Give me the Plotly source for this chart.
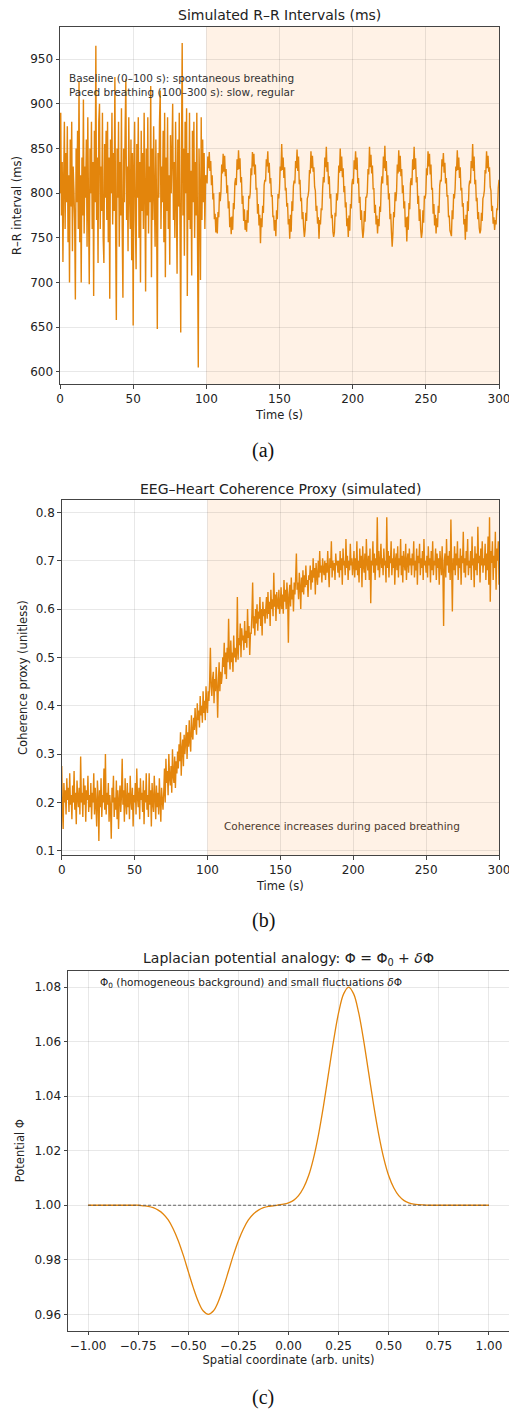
import numpy as np
import plotly.graph_objects as go

# ---- (a) simulated R-R intervals (ms), one value every 0.5 s ----
rr_baseline = [  # 0 - 99.5 s, spontaneous breathing
    800, 890, 775, 835, 723, 815, 880, 760, 845, 790, 875, 745, 820, 700, 860, 785, 880, 735, 830, 805,
    770, 681, 850, 790, 870, 760, 925, 745, 820, 700, 840, 775, 905, 755, 830, 795, 860, 740, 885, 780,
    698, 850, 800, 880, 760, 835, 685, 870, 790, 965, 770, 840, 722, 880, 900, 760, 830, 780, 890, 750,
    722, 855, 795, 870, 770, 880, 745, 840, 682, 860, 800, 890, 765, 845, 780, 930, 760, 658, 850, 795,
    880, 740, 835, 775, 895, 760, 683, 850, 790, 870, 928, 770, 830, 735, 885, 800, 760, 860, 725, 845,
    652, 830, 880, 770, 715, 855, 795, 885, 750, 835, 700, 870, 780, 845, 760, 890, 805, 690, 850, 775,
    885, 755, 830, 790, 920, 706, 850, 770, 875, 800, 740, 860, 785, 648, 845, 795, 880, 915, 760, 830,
    790, 870, 745, 890, 706, 840, 780, 885, 760, 820, 720, 865, 800, 845, 900, 770, 835, 750, 880, 795,
    710, 860, 785, 890, 765, 644, 840, 968, 775, 850, 730, 880, 800, 895, 685, 845, 770, 890, 760, 825,
    708, 870, 790, 880, 750, 835, 775, 890, 740, 605, 850, 800, 703, 885, 770, 860, 790, 845, 760, 820,
]
rr_paced = [  # 100 - 300 s, paced breathing (~10 s cycles)
    819, 811, 841, 828, 846, 825, 836, 809, 820, 793, 800, 771, 777, 756, 773, 755, 779, 773, 801, 791,
    802, 832, 822, 844, 824, 842, 819, 827, 800, 809, 783, 791, 762, 773, 754, 774, 759, 789, 782, 811,
    817, 809, 838, 826, 848, 827, 839, 812, 818, 788, 797, 769, 782, 759, 770, 757, 781, 767, 797, 794,
    800, 828, 820, 846, 830, 844, 821, 832, 804, 806, 777, 788, 764, 776, 744, 772, 762, 786, 778, 809,
    815, 813, 838, 830, 847, 823, 834, 811, 817, 796, 798, 773, 775, 758, 770, 752, 781, 771, 799, 794,
    805, 830, 825, 855, 826, 840, 817, 829, 803, 806, 785, 789, 765, 771, 749, 776, 757, 791, 780, 808,
    814, 811, 836, 828, 849, 825, 841, 810, 815, 791, 795, 771, 779, 761, 751, 759, 778, 769, 794, 797,
    803, 826, 822, 847, 828, 842, 824, 829, 807, 803, 780, 786, 766, 773, 749, 770, 765, 783, 781, 806,
    818, 812, 840, 829, 852, 824, 835, 810, 819, 794, 799, 772, 776, 757, 751, 756, 778, 774, 800, 792,
    803, 831, 823, 850, 825, 841, 818, 828, 801, 808, 784, 790, 763, 772, 751, 775, 758, 788, 783, 810,
    816, 810, 837, 827, 847, 826, 840, 811, 817, 789, 796, 770, 781, 760, 750, 758, 780, 768, 796, 795,
    801, 827, 821, 852, 829, 843, 822, 831, 805, 805, 778, 787, 765, 775, 755, 771, 763, 785, 779, 808,
    819, 811, 841, 828, 853, 825, 836, 809, 820, 793, 800, 771, 777, 756, 740, 755, 779, 773, 801, 791,
    802, 832, 822, 848, 824, 842, 819, 827, 800, 809, 783, 791, 762, 773, 746, 774, 759, 789, 782, 811,
    817, 809, 838, 826, 852, 827, 839, 812, 818, 788, 797, 769, 782, 759, 750, 757, 781, 767, 797, 794,
    800, 828, 820, 847, 830, 844, 821, 832, 804, 806, 777, 788, 764, 776, 755, 772, 762, 786, 778, 809,
    815, 813, 838, 830, 845, 823, 834, 811, 817, 796, 798, 773, 775, 758, 755, 752, 781, 771, 799, 794,
    805, 830, 825, 848, 826, 840, 817, 829, 803, 806, 785, 789, 765, 771, 748, 776, 757, 791, 780, 808,
    814, 811, 836, 828, 855, 825, 841, 810, 815, 791, 795, 771, 779, 761, 755, 759, 778, 769, 794, 797,
    803, 826, 822, 847, 828, 842, 824, 829, 807, 803, 780, 786, 766, 773, 759, 770, 765, 783, 781, 806,
    815,
]

# ---- (b) EEG-heart coherence proxy, one value every 0.5 s ----
coh_rest = [  # 0 - 69.5 s
    0.275, 0.19, 0.145, 0.24, 0.2, 0.225, 0.175, 0.25, 0.205, 0.23, 0.18, 0.26, 0.195, 0.215, 0.165, 0.235, 0.2, 0.265, 0.185, 0.22,
    0.155, 0.245, 0.21, 0.19, 0.23, 0.175, 0.295, 0.2, 0.22, 0.17, 0.25, 0.195, 0.235, 0.16, 0.225, 0.205, 0.255, 0.18, 0.215, 0.19,
    0.24, 0.165, 0.22, 0.2, 0.26, 0.175, 0.23, 0.195, 0.15, 0.245, 0.21, 0.12, 0.225, 0.19, 0.25, 0.17, 0.215, 0.2, 0.27, 0.185,
    0.3, 0.175, 0.22, 0.195, 0.24, 0.16, 0.215, 0.19, 0.125, 0.23, 0.2, 0.255, 0.17, 0.21, 0.185, 0.245, 0.165, 0.225, 0.145, 0.205,
    0.235, 0.18, 0.215, 0.29, 0.195, 0.225, 0.16, 0.25, 0.2, 0.175, 0.24, 0.19, 0.22, 0.165, 0.255, 0.205, 0.185, 0.23, 0.15, 0.215,
    0.2, 0.24, 0.175, 0.27, 0.21, 0.19, 0.23, 0.165, 0.25, 0.205, 0.22, 0.18, 0.245, 0.155, 0.225, 0.2, 0.26, 0.185, 0.215, 0.17,
    0.26, 0.195, 0.225, 0.15, 0.24, 0.2, 0.18, 0.255, 0.21, 0.165, 0.235, 0.19, 0.22, 0.175, 0.25, 0.2, 0.16, 0.23, 0.205, 0.185,
]
coh_rise = [  # 70 - 199.5 s
    0.22, 0.27, 0.2, 0.29, 0.24, 0.265, 0.215, 0.3, 0.25, 0.235, 0.275, 0.22, 0.31, 0.255, 0.24, 0.295, 0.23, 0.285, 0.26, 0.305,
    0.27, 0.32, 0.285, 0.345, 0.255, 0.31, 0.33, 0.275, 0.34, 0.3, 0.325, 0.36, 0.29, 0.345, 0.315, 0.37, 0.325, 0.305, 0.38, 0.34,
    0.33, 0.375, 0.35, 0.395, 0.36, 0.34, 0.405, 0.37, 0.39, 0.355, 0.42, 0.38, 0.4, 0.365, 0.43, 0.385, 0.41, 0.37, 0.44, 0.4,
    0.385, 0.43, 0.41, 0.45, 0.52, 0.44, 0.42, 0.455, 0.47, 0.405, 0.455, 0.43, 0.48, 0.44, 0.375, 0.45, 0.49, 0.43, 0.47, 0.445,
    0.46, 0.5, 0.48, 0.53, 0.465, 0.51, 0.455, 0.52, 0.49, 0.58, 0.5, 0.475, 0.535, 0.49, 0.51, 0.47, 0.545, 0.5, 0.52, 0.49,
    0.51, 0.625, 0.495, 0.54, 0.525, 0.57, 0.5, 0.56, 0.535, 0.545, 0.515, 0.575, 0.53, 0.555, 0.52, 0.6, 0.54, 0.565, 0.505, 0.55,
    0.55, 0.59, 0.655, 0.56, 0.585, 0.545, 0.6, 0.57, 0.61, 0.555, 0.595, 0.58, 0.625, 0.565, 0.6, 0.545, 0.615, 0.585, 0.6, 0.57,
    0.6, 0.625, 0.58, 0.635, 0.59, 0.615, 0.565, 0.64, 0.6, 0.62, 0.585, 0.675, 0.605, 0.63, 0.575, 0.635, 0.61, 0.6, 0.64, 0.59,
    0.61, 0.645, 0.6, 0.63, 0.59, 0.66, 0.615, 0.64, 0.6, 0.655, 0.625, 0.53, 0.63, 0.65, 0.605, 0.665, 0.62, 0.64, 0.595, 0.655,
    0.63, 0.665, 0.715, 0.64, 0.655, 0.62, 0.675, 0.645, 0.6, 0.665, 0.635, 0.68, 0.63, 0.67, 0.645, 0.69, 0.65, 0.66, 0.625, 0.67,
    0.66, 0.69, 0.64, 0.68, 0.655, 0.705, 0.665, 0.685, 0.63, 0.695, 0.67, 0.65, 0.7, 0.665, 0.72, 0.675, 0.69, 0.655, 0.705, 0.68,
    0.67, 0.7, 0.66, 0.695, 0.675, 0.72, 0.68, 0.645, 0.705, 0.685, 0.74, 0.665, 0.7, 0.68, 0.695, 0.66, 0.715, 0.69, 0.7, 0.675,
    0.7, 0.665, 0.72, 0.68, 0.705, 0.65, 0.725, 0.69, 0.7, 0.67, 0.745, 0.685, 0.71, 0.66, 0.7, 0.68, 0.735, 0.69, 0.705, 0.67,
]
coh_plateau = [  # 200 - 300 s
    0.69, 0.72, 0.665, 0.705, 0.68, 0.74, 0.67, 0.7, 0.655, 0.725, 0.685, 0.71, 0.645, 0.73, 0.69, 0.675, 0.715, 0.66, 0.745, 0.695,
    0.68, 0.71, 0.66, 0.725, 0.612, 0.7, 0.69, 0.74, 0.675, 0.715, 0.66, 0.705, 0.69, 0.79, 0.68, 0.72, 0.665, 0.7, 0.735, 0.685,
    0.705, 0.67, 0.725, 0.69, 0.7, 0.655, 0.79, 0.685, 0.72, 0.665, 0.71, 0.695, 0.74, 0.67, 0.705, 0.685, 0.725, 0.65, 0.7, 0.715,
    0.68, 0.73, 0.665, 0.705, 0.69, 0.745, 0.67, 0.71, 0.655, 0.72, 0.695, 0.68, 0.735, 0.66, 0.7, 0.715, 0.675, 0.725, 0.69, 0.705,
    0.67, 0.715, 0.69, 0.74, 0.665, 0.7, 0.68, 0.725, 0.65, 0.71, 0.695, 0.735, 0.67, 0.705, 0.685, 0.72, 0.66, 0.745, 0.69, 0.7,
    0.675, 0.71, 0.665, 0.73, 0.69, 0.705, 0.655, 0.72, 0.68, 0.74, 0.67, 0.7, 0.69, 0.725, 0.66, 0.715, 0.685, 0.705, 0.65, 0.72,
    0.695, 0.67, 0.73, 0.68, 0.565, 0.7, 0.715, 0.665, 0.745, 0.69, 0.71, 0.675, 0.72, 0.66, 0.785, 0.69, 0.595, 0.705, 0.68, 0.73,
    0.67, 0.715, 0.69, 0.74, 0.66, 0.705, 0.685, 0.725, 0.65, 0.71, 0.695, 0.76, 0.675, 0.705, 0.665, 0.72, 0.69, 0.745, 0.67, 0.7,
    0.685, 0.72, 0.66, 0.75, 0.69, 0.705, 0.645, 0.73, 0.68, 0.715, 0.67, 0.77, 0.695, 0.71, 0.655, 0.725, 0.69, 0.74, 0.675, 0.705,
    0.69, 0.735, 0.66, 0.715, 0.68, 0.75, 0.65, 0.79, 0.615, 0.72, 0.695, 0.74, 0.66, 0.71, 0.685, 0.76, 0.64, 0.725, 0.7, 0.74,
    0.65,
]

# ---- (c) potential Phi = Phi0 + dPhi along a spatial coordinate (-1 .. 1, step 0.025) ----
phi0 = 1.0
phi_vals = [
    1.0000, 1.0000, 1.0000, 1.0000, 1.0000, 1.0000, 1.0000, 1.0000, 1.0000, 1.0000, 1.0000,
    0.9998, 0.9996, 0.9991, 0.9982, 0.9968, 0.9946, 0.9913, 0.9870, 0.9817, 0.9757,
    0.9698, 0.9647, 0.9612, 0.9600, 0.9612, 0.9647, 0.9698, 0.9757, 0.9817, 0.9870,
    0.9913, 0.9946, 0.9968, 0.9982, 0.9991, 0.9996, 0.9998,
    1.0001, 1.0004, 1.0009, 1.0018, 1.0035, 1.0064, 1.0108, 1.0173, 1.0260, 1.0366,
    1.0485, 1.0604, 1.0706, 1.0775, 1.0800, 1.0775, 1.0706, 1.0604, 1.0485, 1.0366,
    1.0260, 1.0173, 1.0108, 1.0064, 1.0035, 1.0018, 1.0009, 1.0004, 1.0002, 1.0001,
    1.0000, 1.0000, 1.0000, 1.0000, 1.0000, 1.0000, 1.0000, 1.0000, 1.0000, 1.0000, 1.0000, 1.0000, 1.0000,
]

paced_start, paced_end = 100, 300

rr = rr_baseline + rr_paced
coh = coh_rest + coh_rise + coh_plateau
t_rr = np.arange(len(rr)) * 0.5
t_coh = np.arange(len(coh)) * 0.5
phi_x = np.linspace(-1, 1, len(phi_vals))

ORANGE = "#e3850c"
SHADE = "rgba(255,127,14,0.1)"
W, H = 509, 1409


def px(y):
    # pixel row -> paper fraction
    return 1 - y / H


fig = go.Figure()
fig.add_trace(go.Scatter(x=t_rr, y=rr, mode="lines", line=dict(color=ORANGE, width=1.4, simplify=False),
                         xaxis="x", yaxis="y", showlegend=False))
fig.add_trace(go.Scatter(x=t_coh, y=coh, mode="lines", line=dict(color=ORANGE, width=1.4, simplify=False),
                         xaxis="x2", yaxis="y2", showlegend=False))
fig.add_trace(go.Scatter(x=phi_x, y=phi_vals, mode="lines", line=dict(color=ORANGE, width=1.3, shape="spline"),
                         xaxis="x3", yaxis="y3", showlegend=False))
fig.add_trace(go.Scatter(x=phi_x, y=[phi0] * len(phi_x), mode="lines",
                         line=dict(color="#555", width=0.9, dash="3px,2px"),
                         xaxis="x3", yaxis="y3", showlegend=False))

axis_style = dict(showline=True, linecolor="#444", linewidth=1, mirror=True,
                  ticks="outside", ticklen=3.5, tickwidth=1, tickcolor="#444",
                  showgrid=True, gridcolor="rgba(0,0,0,0.09)", gridwidth=1, zeroline=False,
                  ticklabeloverflow="allow",
                  tickfont=dict(family="DejaVu Sans", size=12, color="#222"), automargin=False)
title_font = dict(family="DejaVu Sans", size=11.5, color="#222")

fig.update_layout(
    template="none",
    width=W, height=H,
    margin=dict(l=0, r=0, t=0, b=0),
    paper_bgcolor="white", plot_bgcolor="white",
    font=dict(family="DejaVu Sans", color="#222"),
    xaxis=dict(axis_style, domain=[60 / W, 499 / W], anchor="y", range=[0, 300],
               tickvals=[0, 50, 100, 150, 200, 250, 300],
               title=dict(text="Time (s)", font=title_font, standoff=6)),
    yaxis=dict(axis_style, domain=[px(384), px(27)], anchor="x", range=[586.5, 986],
               tickvals=[600, 650, 700, 750, 800, 850, 900, 950],
               title=dict(text="R–R interval (ms)", font=title_font, standoff=6)),
    xaxis2=dict(axis_style, domain=[61.7 / W, 499 / W], anchor="y2", range=[0, 300],
                tickvals=[0, 50, 100, 150, 200, 250, 300],
                title=dict(text="Time (s)", font=title_font, standoff=5)),
    yaxis2=dict(axis_style, domain=[px(855.3), px(500)], anchor="x2", range=[0.0905, 0.8255],
                tickvals=[0.1, 0.2, 0.3, 0.4, 0.5, 0.6, 0.7, 0.8], tickformat=".1f",
                title=dict(text="Coherence proxy (unitless)", font=title_font, standoff=5)),
    xaxis3=dict(axis_style, domain=[68 / W, 1.0], anchor="y3", range=[-1.1, 1.1],
                tickvals=[-1, -0.75, -0.5, -0.25, 0, 0.25, 0.5, 0.75, 1], tickformat=".2f",
                title=dict(text="Spatial coordinate (arb. units)", font=title_font, standoff=4)),
    yaxis3=dict(axis_style, domain=[px(1330.7), px(970.7)], anchor="x3", range=[0.954, 1.086],
                tickvals=[0.96, 0.98, 1.0, 1.02, 1.04, 1.06, 1.08], tickformat=".2f",
                title=dict(text="Potential Φ", font=title_font, standoff=7)),
    shapes=[
        dict(type="rect", xref="x", yref="y domain", x0=paced_start, x1=paced_end, y0=0, y1=1,
             fillcolor=SHADE, line=dict(width=0), layer="below"),
        dict(type="rect", xref="x2", yref="y2 domain", x0=paced_start, x1=paced_end, y0=0, y1=1,
             fillcolor=SHADE, line=dict(width=0), layer="below"),
    ],
)

ann = []
# panel titles
for text, xc, yc in [("Simulated R–R Intervals (ms)", 279.5, 15),
                     ("EEG–Heart Coherence Proxy (simulated)", 280.3, 489),
                     ("Laplacian potential analogy: Φ = Φ<sub>0</sub> + <i>δ</i>Φ", 288.5, 959)]:
    ann.append(dict(text=text, xref="paper", yref="paper", x=xc / W, y=px(yc), xanchor="center",
                    yanchor="middle", showarrow=False, font=dict(family="DejaVu Sans", size=14, color="#222")))
# in-plot notes
ann.append(dict(text="Baseline (0–100 s): spontaneous breathing<br>Paced breathing (100–300 s): slow, regular",
                xref="paper", yref="paper", x=67 / W, y=px(84.7), xanchor="left", yanchor="middle", align="left",
                showarrow=False, font=dict(family="DejaVu Sans", size=10.5, color="#333")))
ann.append(dict(text="Coherence increases during paced breathing",
                xref="paper", yref="paper", x=221.7 / W, y=px(826), xanchor="left", yanchor="middle",
                showarrow=False, font=dict(family="DejaVu Sans", size=10.5, color="#4d3a2e")))
ann.append(dict(text="Φ<sub>0</sub> (homogeneous background) and small fluctuations <i>δ</i>Φ",
                xref="paper", yref="paper", x=98 / W, y=px(983), xanchor="left", yanchor="middle",
                showarrow=False, font=dict(family="DejaVu Sans", size=10.5, color="#222")))
# sub-figure captions
for text, yc in [("(a)", 450), ("(b)", 920), ("(c)", 1397)]:
    ann.append(dict(text=text, xref="paper", yref="paper", x=263 / W, y=px(yc), xanchor="center",
                    yanchor="middle", showarrow=False, font=dict(family="Liberation Serif", size=20, color="#111")))
fig.update_layout(annotations=ann)

# drop the default 8px page margin so the figure sits at the window's corner
fig.write_html("out.html", config={"displayModeBar": False},
               post_script="document.body.style.margin='0';")
